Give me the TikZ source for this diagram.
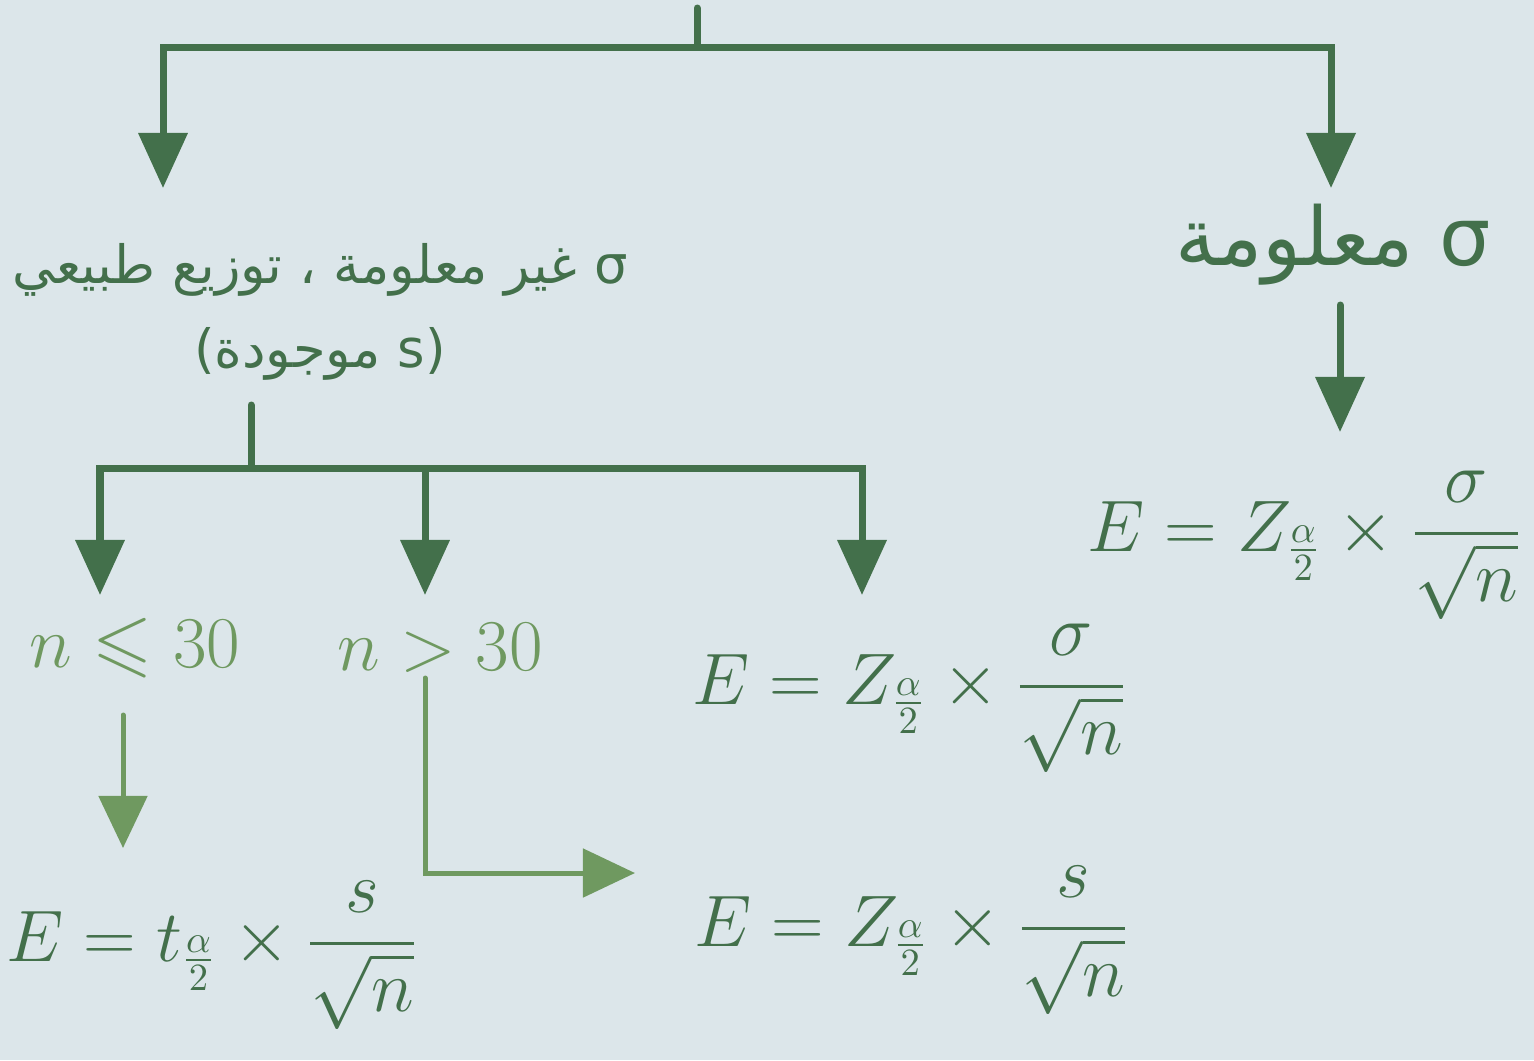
\documentclass[tikz,border=0pt]{standalone}
\usepackage{amsmath,amssymb}
\usepackage{fontspec}
\newfontfamily\arabicfont[Script=Arabic]{DejaVu Sans}
\newfontfamily\latinfont{DejaVu Sans}
\TeXXeTstate=1
\usetikzlibrary{arrows.meta}
\definecolor{bgc}{HTML}{DCE6EA}
\definecolor{dk}{HTML}{43704B}
\definecolor{lt}{HTML}{6F9960}
\begin{document}
\begin{tikzpicture}[x=0.01cm,y=-0.01cm,
  dline/.style={draw=dk,line width=0.07cm,line cap=round,line join=miter},
  darr/.style={dline,-{Triangle[width=0.48cm,length=0.55cm]}},
  larr/.style={draw=lt,line width=0.05cm,line cap=round,-{Triangle[width=0.48cm,length=0.52cm]}},
  formula/.style={text=dk,font=\fontsize{21}{25}\selectfont,inner sep=0pt},
  cond/.style={text=lt,font=\fontsize{22}{26}\selectfont,inner sep=0pt},
  arab/.style={text=dk,align=center,inner sep=0pt}]
\fill[bgc] (0,0) rectangle (1534,1060);
\useasboundingbox (0,0) rectangle (1534,1060);
% coordinates
\coordinate (top) at (697,8);
\coordinate (hub) at (697,47);
\coordinate (tipL) at (163,188);
\coordinate (tipR) at (1331,188);
\coordinate (rs) at (1340,305);
\coordinate (rt) at (1340,432);
\coordinate (ls) at (251,405);
\coordinate (hub2) at (251,468);
\coordinate (t1) at (100,595);
\coordinate (t2) at (425,595);
\coordinate (t3) at (862,595);
% nodes
\node[arab,font=\arabicfont\fontsize{23}{26}\selectfont] (known) at (1333,245) {\beginR σ معلومة\endR};
\node[arab,font=\arabicfont\fontsize{15}{24}\selectfont] (unknown) at (320,312) {\beginR σ غير معلومة ، توزيع طبيعي\endR\\{\latinfont(}موجودة s{\latinfont)}};
\node[formula] (fr) at (1305,545) {$E=Z_{\frac{\alpha}{2}}\times\dfrac{\sigma}{\sqrt{n}}$};
\node[cond] (c1) at (135,648) {$n\leqslant 30$};
\node[cond] (c2) at (440,648) {$n>30$};
\node[formula] (fm) at (910,698) {$E=Z_{\frac{\alpha}{2}}\times\dfrac{\sigma}{\sqrt{n}}$};
\node[formula] (fl) at (212,955) {$E=t_{\frac{\alpha}{2}}\times\dfrac{s}{\sqrt{n}}$};
\node[formula] (fb) at (912,940) {$E=Z_{\frac{\alpha}{2}}\times\dfrac{s}{\sqrt{n}}$};
% connectors
\draw[dline] (top) -- (hub);
\draw[darr] (hub) -| (tipL);
\draw[darr] (hub) -| (tipR);
\draw[darr] (rs) -- (rt);
\draw[dline] (ls) -- (hub2);
\draw[darr] (hub2) -| (t1);
\draw[darr] (hub2) -| (t2);
\draw[darr] (hub2) -| (t3);
\coordinate (l1s) at (123,715);
\coordinate (l1t) at (123,848);
\coordinate (l2s) at (425,678);
\coordinate (l2c) at (425,873);
\coordinate (l2t) at (635,873);
\draw[larr] (l1s) -- (l1t);
\draw[larr] (l2s) -- (l2c) -- (l2t);
\end{tikzpicture}
\end{document}
